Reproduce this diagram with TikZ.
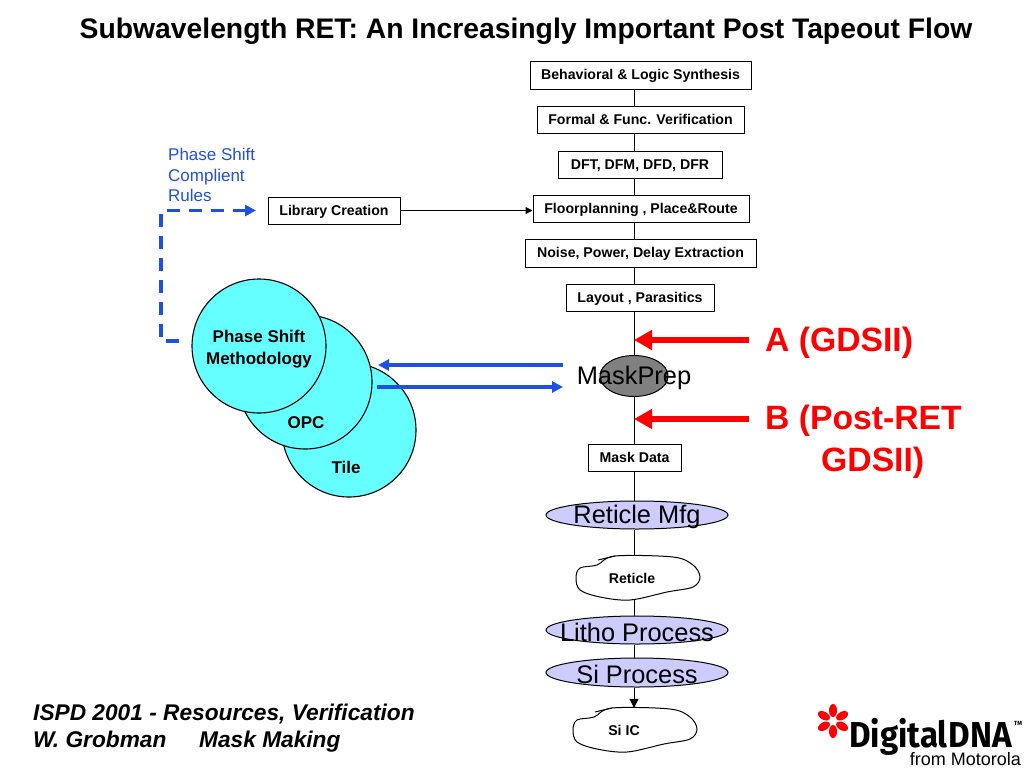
\documentclass[tikz,border=0pt]{standalone}
\usepackage{fontspec}
\usepackage{graphicx}
\setmainfont{Liberation Sans}
\newfontfamily\logofont{Fira Sans}
\usetikzlibrary{
    arrows.meta,
    shapes.geometric
}
\definecolor{ruleBlue}{RGB}{30,80,225}
\definecolor{circleCyan}{RGB}{102,255,255}
\definecolor{procLilac}{RGB}{204,204,255}
\definecolor{prepGray}{RGB}{128,128,128}
\newcommand{\fsz}[1]{\fontsize{#1}{#1}\selectfont}
\newcommand{\blobpath}{plot[smooth cycle, tension=0.55] coordinates {(615,556) (673,557) (693,565) (700,577) (693,587) (667,592) (630,600) (600,597) (580,590) (576,578) (580,568) (597,565)}}
\tikzset{
  flowbox/.style = {draw, line width=1pt, fill=white, inner sep=0pt, text height=10pt, text depth=1pt,
                    font=\fsz{14.15}\bfseries},
  proc/.style    = {ellipse, draw, line width=1pt, fill=procLilac, inner sep=0pt,
                    minimum width=182pt, minimum height=28pt},
  bigtext/.style = {inner sep=0pt, yshift=-2pt, font=\fsz{25.4}},
  stage/.style   = {circle, draw, line width=1.1pt, fill=circleCyan, minimum size=134pt, inner sep=0pt},
  stagetext/.style = {align=center, inner sep=0pt, font=\fsz{17}\bfseries},
  blobtext/.style = {inner sep=0pt, font=\fsz{14.15}\bfseries},
  redlabel/.style = {inner sep=0pt, text=red, anchor=base west, font=\fsz{33.7}\bfseries},
  flow/.style    = {line width=1pt},
  arrblue/.style = {-{Stealth[length=11pt,width=11pt,inset=0pt]}, ruleBlue, line width=3.4pt},
  arrred/.style  = {-{Stealth[length=18pt,width=19pt,inset=0pt]}, red, line width=6.5pt},
  footer/.style  = {inner sep=0pt, anchor=base west, font=\fsz{22.7}\bfseries\itshape}
}

\begin{document}
\begin{tikzpicture}[x=1pt, y=-1pt]
\useasboundingbox (0,0) rectangle (1024,768);

% --- TITLE ---
\node[inner sep=0pt, font=\fsz{28.3}\bfseries] (title) at (526,31) {Subwavelength RET: An Increasingly Important Post Tapeout Flow};

% --- DESIGN FLOW BOXES ---
\node[flowbox, minimum width=221pt, minimum height=28pt] (behav) at (640.5,75) {Behavioral \& Logic Synthesis};
\node[flowbox, minimum width=207pt, minimum height=27pt] (formal) at (640.5,119.5) {Formal \& Func. Verification};
\node[flowbox, minimum width=164pt, minimum height=27pt] (dft) at (640,164.5) {DFT, DFM, DFD, DFR};
\node[flowbox, minimum width=216pt, minimum height=27pt] (floor) at (641,208.5) {Floorplanning , Place\&Route};
\node[flowbox, minimum width=231pt, minimum height=28pt] (noise) at (640.5,253) {Noise, Power, Delay Extraction};
\node[flowbox, minimum width=148pt, minimum height=27pt] (layout) at (640,297.5) {Layout , Parasitics};

% --- MASK PREPARATION ---
\node[ellipse, draw, line width=1pt, fill=prepGray, inner sep=0pt, minimum width=68pt, minimum height=41pt,
      label={[bigtext]center:MaskPrep}] (maskprep) at (634,376) {};
\node[flowbox, minimum width=93pt, minimum height=27pt] (maskdata) at (634.5,457.5) {Mask Data};

% --- MANUFACTURING STEPS ---
\node[proc, label={[bigtext]center:Reticle Mfg}] (mfg) at (637,515) {};
\draw[line width=1pt, fill=white] \blobpath;
\draw[line width=1pt] (598,560) -- (615,556);
\node[blobtext, minimum height=44pt] (reticle) at (632,578) {Reticle};
\node[proc, label={[bigtext]center:Litho Process}] (litho) at (637,630) {};
\node[proc, minimum height=29pt, label={[bigtext]center:Si Process}] (si) at (637,672.5) {};
\begin{scope}[shift={(-3,152)}]
\draw[line width=1pt, fill=white] \blobpath;
\draw[line width=1pt] (598,560) -- (615,556);
\end{scope}
\node[blobtext, minimum height=44pt] (siic) at (624,730) {Si IC};

% --- FLOW CONNECTIONS ---
\foreach \a/\b in {behav/formal, formal/dft, dft/floor, floor/noise, noise/layout, layout/maskprep,
                   maskprep/maskdata, maskdata/mfg, mfg/reticle, reticle/litho, litho/si}
  \draw[flow] (\a.south -| maskprep) -- (\b.north -| maskprep);
\draw[flow, -{Stealth[length=9pt,width=9pt,inset=0pt]}] (si.south -| maskprep) -- (siic.north -| maskprep);

% --- METHODOLOGY CIRCLES ---
\node[stage] (tile) at (349,430) {};
\node[stage] (opc) at (305,382) {};
\node[stage] (phase) at (259,346) {};
\node[stagetext] (tiletext) at (346,467) {Tile};
\node[stagetext] (opctext) at (306,423) {OPC};
\node[stagetext] (phasetext) at (259,349) {Phase Shift\\[4.5pt]Methodology};

% --- LIBRARY CREATION ---
\node[flowbox, minimum width=132pt, minimum height=27pt] (library) at (334,210.5) {Library Creation};
\draw[flow, -{Stealth[length=7pt,width=7pt,inset=0pt]}] (library) -- (floor.west |- library);
\node[align=left, inner sep=0pt, anchor=north west, text=ruleBlue, font=\fsz{17}] (rules) at (168,148) {Phase Shift\\[3.7pt]Complient\\[3.7pt]Rules};

% --- BLUE LINKS ---
\coordinate (dashstart) at (179,341);
\coordinate (dashend) at (256,210.5);
\draw[ruleBlue, line width=3.4pt, dash pattern=on 13pt off 9pt, -{Stealth[length=11pt,width=11pt,inset=0pt]}]
    (dashstart) -- (161,341) -- (161,210.5) -- (dashend);
\coordinate (backstart) at (563,365);
\coordinate (backend) at (378,365);
\coordinate (sendstart) at (377,387);
\coordinate (sendend) at (563,387);
\draw[arrblue] (backstart) -- (backend);
\draw[arrblue] (sendstart) -- (sendend);

% --- RED MARKERS ---
\coordinate (astart) at (749,340);
\coordinate (bstart) at (749,419);
\draw[arrred] (astart) -- (astart -| maskprep);
\draw[arrred] (bstart) -- (bstart -| maskprep);
\node[redlabel] (alabel) at (765,351) {A (GDSII)};
\node[redlabel] (blabel) at (765,429) {B (Post-RET};
\node[redlabel] (blabeltwo) at (821,471) {GDSII)};

% --- FOOTER ---
\node[footer] (footone) at (33,720) {ISPD 2001 - Resources, Verification};
\node[footer] (foottwo) at (33,747) {W. Grobman};
\node[footer] (footthree) at (199,747) {Mask Making};

% --- LOGO ---
\foreach \ang in {30,90,...,330}
  \fill[red, rotate around={\ang:(833,721)}] (843.5,721) ellipse [x radius=6.5pt, y radius=4pt];
\node[inner sep=0pt, anchor=base west, font=\logofont\fsz{36}\bfseries] (logo) at (849,747) {\scalebox{0.92}[1]{Digital\hspace{1pt}DNA}};
\node[inner sep=0pt, anchor=base west, font=\logofont\fsz{6}\bfseries] (tm) at (1014,725) {TM};
\node[inner sep=0pt, anchor=base east, font=\fsz{18}] (motorola) at (1021,765.5) {from Motorola};
\end{tikzpicture}
\end{document}
